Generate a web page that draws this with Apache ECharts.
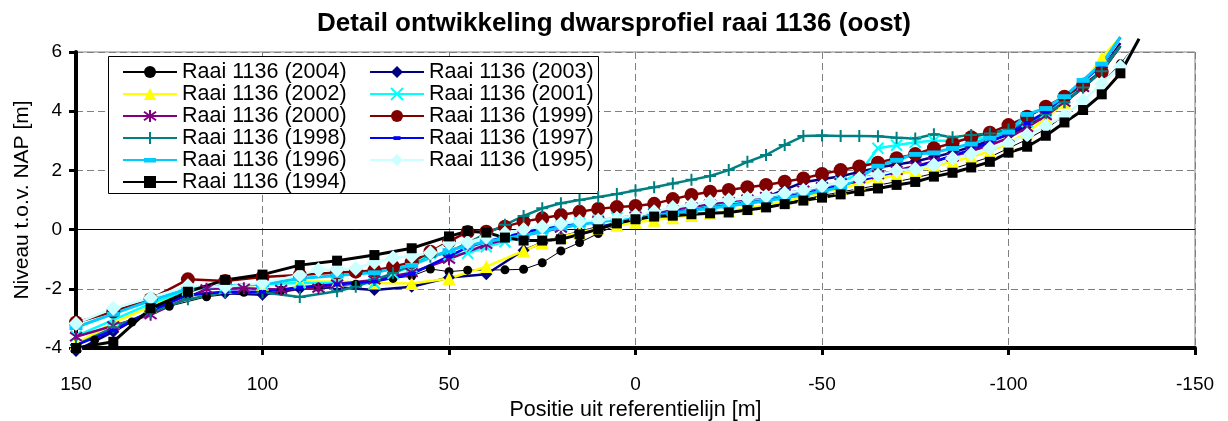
<!DOCTYPE html>
<html>
<head>
<meta charset="utf-8">
<title>Detail ontwikkeling dwarsprofiel raai 1136 (oost)</title>
<script src="https://cdn.jsdelivr.net/npm/echarts@6/dist/echarts.min.js"></script>
<style>
  html, body { margin: 0; padding: 0; background: #fff; }
  #chart { width: 1228px; height: 421px; }
</style>
</head>
<body>
<div id="chart"></div>
<script>
// Cross-shore profile of transect 1136 (east), one line per survey year.
// Positions are metres from the reference line; levels are metres relative to NAP.
const _ = null;

const positions = [
  150, 145, 140, 135, 130, 125, 120, 115, 110, 105,
  100, 95, 90, 85, 80, 75, 70, 65, 60, 55,
  50, 45, 40, 35, 30, 25, 20, 15, 10, 5,
  0, -5, -10, -15, -20, -25, -30, -35, -40, -45,
  -50, -55, -60, -65, -70, -75, -80, -85, -90, -95,
  -100, -105, -110, -115, -120, -125, -130, -135
];

const level2004 = [
  _, -3.73, _, -3.12, _, -2.59, _, -2.27, _, -2.12,
  _, -2.05, _, -1.95, _, -1.85, _, -1.65, -1.57, -1.33,
  -1.42, -1.37, _, -1.36, -1.34, -1.12, -0.72, -0.44, -0.13, 0.16,
  0.33, 0.42, 0.47, 0.52, 0.56, 0.60, 0.68, 0.78, 0.90, 1.02,
  1.15, 1.27, 1.38, 1.50, 1.62, 1.75, 1.90, 2.05, 2.25, 2.45,
  2.75, 3.05, 3.40, 3.85, 4.35, 4.95, 5.60, 6.40
];
const level2003 = [
  -4.10, _, -3.45, _, -2.75, _, -2.20, _, -2.15, _,
  -2.20, _, -2.00, _, -1.95, _, -2.04, _, -1.93, _,
  -1.62, _, -1.51, _, -0.70, -0.45, -0.25, -0.08, 0.08, 0.22,
  0.35, 0.45, 0.55, 0.65, 0.75, 0.85, 0.95, 1.10, 1.35, 1.60,
  1.70, 1.80, 1.95, 2.10, 2.20, 2.30, 2.45, 2.60, 2.80, 3.00,
  3.20, 3.50, 3.85, 4.30, 4.80, 5.40, 6.30, _
];
const level2002 = [
  -3.85, _, -3.15, _, -2.60, _, -2.00, _, -1.95, _,
  -1.85, _, -1.75, _, -1.75, _, -1.80, _, -1.82, _,
  -1.65, _, -1.25, _, -0.72, -0.45, -0.25, -0.10, 0.05, 0.15,
  0.25, 0.32, 0.40, 0.48, 0.55, 0.62, 0.72, 0.82, 0.95, 1.10,
  1.25, 1.40, 1.55, 1.70, 1.85, 2.00, 2.15, 2.30, 2.45, 2.65,
  2.90, 3.30, 3.75, 4.30, 4.95, 5.80, 6.50, _
];
const level2001 = [
  -3.60, _, -3.05, _, -2.50, _, -2.05, _, -1.90, _,
  -1.85, _, -1.80, _, -1.80, _, -1.81, -1.48, -1.25, -0.80,
  -0.85, -0.80, -0.58, -0.41, -0.20, -0.02, 0.12, 0.22, 0.32, 0.40,
  0.47, 0.55, 0.63, 0.72, 0.80, 0.90, 0.98, 1.07, 1.18, 1.30,
  1.42, 1.60, 1.90, 2.75, 2.85, 2.95, 3.00, 3.00, 3.05, 3.15,
  3.40, 3.65, 3.95, 4.35, 4.85, 5.40, 6.20, _
];
const level2000 = [
  -3.62, _, -3.25, _, -2.88, _, _, -2.00, _, -1.98,
  _, -2.02, _, -1.98, -1.84, _, -1.70, _, -1.45, _,
  -1.00, _, -0.50, _, -0.20, _, 0.05, _, 0.30, _,
  0.45, 0.55, 0.66, 0.77, 0.86, 0.95, 1.03, 1.12, 1.22, 1.33,
  1.45, 1.58, 1.72, 1.85, 2.00, 2.15, 2.30, 2.45, 2.65, 2.85,
  3.10, 3.45, 3.85, 4.30, 4.80, 5.35, 6.20, _
];
const level1999 = [
  -3.14, _, -2.77, _, -2.35, _, -1.68, _, -1.74, _,
  -1.60, _, -1.53, _, -1.45, -1.42, -1.38, -1.25, -1.10, -0.75,
  -0.40, -0.08, -0.07, 0.10, 0.27, 0.38, 0.49, 0.60, 0.70, 0.76,
  0.80, 0.87, 1.03, 1.17, 1.28, 1.34, 1.43, 1.51, 1.62, 1.73,
  1.88, 2.01, 2.13, 2.26, 2.41, 2.55, 2.75, 2.92, 3.12, 3.27,
  3.53, 3.81, 4.15, 4.49, 4.89, 5.33, 6.20, _
];
const level1998 = [
  -3.90, _, -3.30, _, -2.80, _, -2.35, _, -2.12, _,
  -2.12, _, -2.28, _, -2.08, -1.93, -1.70, -1.47, -1.20, -0.92,
  -0.75, -0.46, -0.13, 0.16, 0.46, 0.72, 0.89, 1.00, 1.10, 1.20,
  1.32, 1.43, 1.56, 1.68, 1.81, 2.01, 2.29, 2.52, 2.86, 3.16,
  3.18, 3.16, 3.16, 3.15, 3.10, 3.08, 3.22, 3.12, 3.20, 3.25,
  3.38, 3.60, 3.90, 4.30, 4.80, 5.35, 6.20, _
];
const level1997 = [
  -3.90, _, -3.40, _, -2.75, _, -2.20, _, -2.10, _,
  -2.10, _, -1.95, _, -1.85, _, -1.75, _, -1.50, _,
  -0.90, -0.60, -0.40, -0.25, -0.10, 0.02, 0.13, 0.22, 0.30, 0.37,
  0.43, 0.50, 0.58, 0.66, 0.74, 0.82, 0.90, 0.98, 1.10, 1.22,
  1.35, 1.50, 1.65, 1.80, 1.95, 2.10, 2.30, 2.50, 2.70, 2.95,
  3.25, 3.60, 3.98, 4.49, 5.00, 5.56, 6.50, _
];
const level1996 = [
  -3.30, _, -2.85, _, -2.40, _, -2.00, _, -1.90, _,
  -1.85, _, -1.65, _, -1.55, _, -1.45, _, -1.20, _,
  -0.70, -0.55, -0.40, -0.30, -0.20, -0.05, 0.07, 0.17, 0.26, 0.33,
  0.40, 0.48, 0.56, 0.64, 0.72, 0.80, 0.88, 0.97, 1.07, 1.18,
  1.30, 1.43, 1.75, 2.15, 2.35, 2.55, 2.60, 2.75, 2.90, 3.10,
  3.30, 3.90, 4.10, 4.50, 5.05, 5.60, 6.50, _
];
const level1995 = [
  -3.17, _, -2.66, _, -2.30, _, -1.90, _, -1.93, _,
  -1.80, _, -1.53, -1.36, -1.36, -1.31, -1.10, -0.95, -0.90, -0.78,
  -0.45, -0.43, -0.25, -0.12, 0.00, 0.10, 0.20, 0.27, 0.32, 0.38,
  0.47, 0.60, 0.75, 0.83, 0.94, 1.00, 1.06, 1.13, 1.23, 1.33,
  1.47, 1.58, 1.73, 1.84, 2.00, 2.05, 2.18, 2.41, 2.55, 2.75,
  2.92, 3.20, 3.50, 3.85, 4.35, 4.94, 5.50, 6.40
];
const level1994 = [
  -4.00, _, -3.79, _, -2.66, _, -2.10, _, -1.70, _,
  -1.52, _, -1.20, _, -1.05, _, -0.86, _, -0.63, _,
  -0.23, -0.05, -0.10, -0.27, -0.37, -0.37, -0.33, -0.16, 0.01, 0.21,
  0.35, 0.44, 0.47, 0.52, 0.55, 0.58, 0.66, 0.75, 0.86, 0.98,
  1.08, 1.19, 1.30, 1.39, 1.51, 1.61, 1.79, 1.92, 2.10, 2.29,
  2.60, 2.80, 3.17, 3.62, 4.04, 4.57, 5.28, 6.45
];

const xTicks = { min: -150, max: 150, step: 50 };
const yTicks = { min: -4, max: 6, step: 2 };

const FONT = 'Liberation Sans, Arial, sans-serif';

// Marker shapes. The stroked ones (asterisk, cross, plus) have no area and are drawn by their border;
// the bars carry two extra move-to points so they keep a square bounding box.
const ASTERISK = 'path://M0,1.5L10,8.5M10,1.5L0,8.5M5,0L5,10';
const CROSS = 'path://M0,0L10,10M10,0L0,10';
const PLUS = 'path://M5,0L5,10M0,5L10,5';
const BAR = 'path://M0,0M12,12M0,4H12V8.5H0Z';
const SHORTBAR = 'path://M0,0M12,12M2.5,4.2H9.5V8H2.5Z';

const surveys = [
  { name: 'Raai 1136 (2004)', values: level2004, color: '#000000', width: 1,   symbol: 'circle',   size: 9 },
  { name: 'Raai 1136 (2003)', values: level2003, color: '#000080', width: 2.5, symbol: 'diamond',  size: 12 },
  { name: 'Raai 1136 (2002)', values: level2002, color: '#FFFF00', width: 2.5, symbol: 'triangle', size: 13 },
  { name: 'Raai 1136 (2001)', values: level2001, color: '#00FFFF', width: 2.5, symbol: CROSS,      size: 11, stroke: true },
  { name: 'Raai 1136 (2000)', values: level2000, color: '#800080', width: 2.5, symbol: ASTERISK,   size: 12, stroke: true },
  { name: 'Raai 1136 (1999)', values: level1999, color: '#800000', width: 2.5, symbol: 'circle',   size: 14 },
  { name: 'Raai 1136 (1998)', values: level1998, color: '#008080', width: 2.5, symbol: PLUS,       size: 12, stroke: true },
  { name: 'Raai 1136 (1997)', values: level1997, color: '#0000FF', width: 2.5, symbol: SHORTBAR,   size: 12 },
  { name: 'Raai 1136 (1996)', values: level1996, color: '#00CCFF', width: 3,   symbol: BAR,        size: 13 },
  { name: 'Raai 1136 (1995)', values: level1995, color: '#CCFFFF', width: 2.5, symbol: 'diamond',  size: 15 },
  { name: 'Raai 1136 (1994)', values: level1994, color: '#000000', width: 3,   symbol: 'rect',     size: 10 }
];

const series = surveys.map((s, k) => {
  // points above the top of the plot keep their line but show no marker
  const pts = positions
    .map((x, i) => [x, s.values[i]])
    .filter(p => p[1] !== null)
    .map(p => (p[1] > yTicks.max ? { value: p, symbol: 'none' } : p));
  const item = s.stroke
    ? { color: s.color, borderColor: s.color, borderWidth: 2 }
    : { color: s.color, borderWidth: 0 };
  const out = {
    name: s.name,
    type: 'line',
    data: pts,
    symbol: s.symbol,
    symbolSize: s.size,
    showSymbol: true,
    showAllSymbol: true,
    clip: false,
    lineStyle: { color: s.color, width: s.width },
    itemStyle: item,
    emphasis: { disabled: true },
    animation: false
  };
  if (k === 0) {
    // zero reference level
    out.markLine = {
      silent: true,
      z: 1,
      symbol: 'none',
      label: { show: false },
      lineStyle: { color: '#000', width: 1, type: 'solid' },
      emphasis: { disabled: true },
      data: [{ yAxis: 0 }]
    };
  }
  return out;
});

const chart = echarts.init(document.getElementById('chart'), null, { renderer: 'canvas' });
chart.setOption({
  backgroundColor: '#ffffff',
  animation: false,
  textStyle: { fontFamily: FONT, color: '#000' },
  title: {
    text: 'Detail ontwikkeling dwarsprofiel raai 1136 (oost)',
    left: 'center',
    top: 6,
    textStyle: { fontFamily: FONT, fontSize: 26, fontWeight: 'bold', color: '#000' }
  },
  grid: {
    left: 76, right: 33, top: 52, bottom: 73,
    containLabel: false,
    outerBoundsMode: 'none',
    show: true,
    borderColor: '#808080',
    borderWidth: 1,
    backgroundColor: '#ffffff'
  },
  graphic: [{
    type: 'rect',
    z: 3,
    shape: { x: 108.5, y: 56.5, width: 490, height: 137 },
    style: { fill: '#ffffff', stroke: '#000000', lineWidth: 1 }
  }],
  legend: {
    z: 5,
    orient: 'horizontal',
    left: 122,
    top: 61,
    width: 500,
    padding: 0,
    itemGap: 0,
    itemWidth: 54,
    itemHeight: 15,
    data: surveys.map(s => s.name),
    textStyle: { fontFamily: FONT, fontSize: 21.5, color: '#000', width: 187, lineHeight: 21.7 },
    selectedMode: false
  },
  xAxis: {
    type: 'value',
    inverse: true,
    min: xTicks.min,
    max: xTicks.max,
    interval: xTicks.step,
    name: 'Positie uit referentielijn [m]',
    nameLocation: 'middle',
    nameGap: 42,
    nameTextStyle: { fontFamily: FONT, fontSize: 21.5, color: '#000' },
    axisLine: { onZero: false, lineStyle: { color: '#000', width: 4 } },
    axisTick: { show: true, length: 7, lineStyle: { color: '#000', width: 3 } },
    axisLabel: { fontFamily: FONT, fontSize: 19, color: '#000', margin: 27, showMinLabel: true, showMaxLabel: true },
    splitLine: { show: true, lineStyle: { color: '#808080', width: 1, type: [7, 4] } }
  },
  yAxis: {
    type: 'value',
    min: yTicks.min,
    max: yTicks.max,
    interval: yTicks.step,
    name: 'Niveau t.o.v. NAP [m]',
    nameLocation: 'middle',
    nameGap: 43,
    nameTextStyle: { fontFamily: FONT, fontSize: 21, color: '#000' },
    axisLine: { onZero: false, lineStyle: { color: '#000', width: 4 } },
    axisTick: { show: true, length: 7, lineStyle: { color: '#000', width: 3 } },
    axisLabel: { fontFamily: FONT, fontSize: 19, color: '#000', margin: 14 },
    splitLine: { show: true, lineStyle: { color: '#808080', width: 1, type: [7, 4] } }
  },
  series: series
});
</script>
</body>
</html>
